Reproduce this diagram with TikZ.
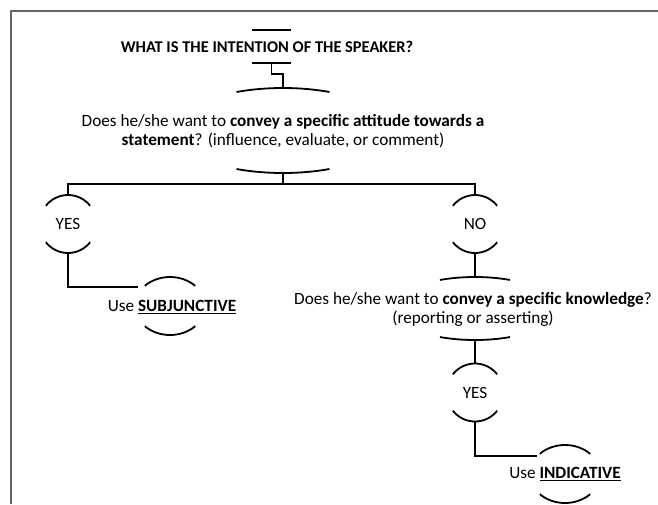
\documentclass[tikz,border=0pt]{standalone}
\usepackage{fontspec}
\setmainfont{Carlito}
\usetikzlibrary{positioning}

% thick underline for the answers
\newcommand{\thickul}[1]{\setbox0\hbox{#1}\rlap{\rule[-2.8pt]{\wd0}{1.3pt}}\box0}

% top and bottom caps of a ring node: node, x radius, y radius, half angle
\newcommand{\ringcaps}[4]{%
  \draw[line] (#1.north) arc[start angle=90, delta angle=#4, x radius=#2, y radius=#3]
              (#1.north) arc[start angle=90, delta angle=-#4, x radius=#2, y radius=#3]
              (#1.south) arc[start angle=270, delta angle=#4, x radius=#2, y radius=#3]
              (#1.south) arc[start angle=270, delta angle=-#4, x radius=#2, y radius=#3];}

\begin{document}
\begin{tikzpicture}[
    x=1pt, y=1pt,
    txt/.style={font=\fontsize{17.2}{19}\selectfont, align=center, inner sep=0pt},
    ring/.style={txt, outer sep=0pt},
    line/.style={line width=1.8pt, black},
    frame/.style={line width=1.8pt, black!60}
]

% page and frame
\useasboundingbox (0,0) rectangle (658,-504);
\draw[frame] (11,-504) |- (658,-11);

% questions and answers
\node[txt, font=\fontsize{16.4}{19}\selectfont] (title) at (267,-47) {\textbf{WHAT IS THE INTENTION OF THE SPEAKER?}};
\node[ring, minimum width=39pt, minimum height=33pt] (tcap) at (271.5,-46.5) {};
\node[txt] (q1) at (283,-131) {Does he/she want to \textbf{convey a specific attitude towards a}\\
    \textbf{statement}? (influence, evaluate, or comment)};
\node[ring, minimum width=220pt, minimum height=85pt] (q1ring) at (283,-130.5) {};
\node[ring, minimum width=57pt, minimum height=58pt] (yes1) at (68,-224) {YES};
\node[ring, minimum width=57pt, minimum height=58pt] (no1) at (475,-224) {NO};
\node[txt] (subj) at (172,-307) {Use \textbf{\thickul{SUBJUNCTIVE}}};
\node[ring, minimum width=70pt, minimum height=58pt] (subjring) at (170,-306) {};
\node[txt] (q2) at (473,-309) {Does he/she want to \textbf{convey a specific knowledge}?\\
    (reporting or asserting)};
\node[ring, minimum width=166pt, minimum height=63pt] (q2ring) at (475,-308.5) {};
\node[ring, minimum width=57pt, minimum height=58pt] (yes2) at (475,-392.5) {YES};
\node[txt] (indic) at (565,-474) {Use \textbf{\thickul{INDICATIVE}}};
\node[ring, minimum width=70pt, minimum height=58pt] (indicring) at (565,-474) {};

% caps round the texts
\draw[line] (tcap.north west) -- (tcap.north east) (tcap.south west) -- (tcap.south east);
\ringcaps{q1ring}{110pt}{42.5pt}{25}
\ringcaps{yes1}{28.5pt}{29pt}{51}
\ringcaps{no1}{28.5pt}{29pt}{51}
\ringcaps{subjring}{35pt}{29pt}{46}
\ringcaps{q2ring}{83pt}{31.5pt}{25}
\ringcaps{yes2}{28.5pt}{29pt}{51}
\ringcaps{indicring}{35pt}{29pt}{46}

% connectors
\draw[line] (tcap.south) -- ++(0,-11) -| (q1ring.north);
\draw[line] (q1ring.south) -- ++(0,-11) coordinate (fork);
\draw[line] (yes1.north) |- (fork) -| (no1.north);
\draw[line] (no1.south) -- (q2ring.north);
\draw[line] (q2ring.south) -- (yes2.north);
\draw[line] (yes1.south) |- ([shift={(-32,19)}]subjring.center);
\draw[line] (yes2.south) |- ([shift={(-28,18)}]indicring.center);

\end{tikzpicture}
\end{document}
